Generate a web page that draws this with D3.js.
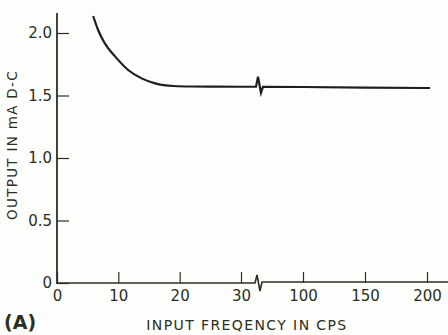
<!DOCTYPE html>
<html>
<head>
<meta charset="utf-8">
<script src="https://cdn.jsdelivr.net/npm/d3@7"></script>
<style>
  html, body { margin: 0; padding: 0; background: #fdfdfb; }
  svg { display: block; }
  text { font-family: "DejaVu Sans", sans-serif; fill: #2b2f22; }
</style>
</head>
<body>
<svg id="chart" width="448" height="335"></svg>
<script>
// Low-frequency part of the response (cps, mA d-c)
const lowFreq   = [5.9, 6.7, 7.8, 9.5, 11.6, 13.8, 16.0, 19.0, 22, 26, 30];
const lowOutput = [2.136, 2.024, 1.917, 1.811, 1.704, 1.637, 1.597, 1.576, 1.572, 1.571, 1.57];
// High-frequency part, after the scale break
const highFreq   = [100, 150, 200, 202.5];
const highOutput = [1.568, 1.563, 1.56, 1.56];

const lowTicks  = [0, 10, 20, 30];
const highTicks = [100, 150, 200];
const yTicks    = [0, 0.5, 1.0, 1.5, 2.0];
const yTickLabels = ["0", "0.5", "1.0", "1.5", "2.0"];

const svg = d3.select("#chart");
const ink = "#2b2f22";

// Broken x axis: linear 0–30, then linear 100–200
const xLow  = d3.scaleLinear().domain([0, 30]).range([57, 241]);
const xHigh = d3.scaleLinear().domain([100, 200]).range([303, 427]);
const y = d3.scaleLinear().domain([0, 2.16]).range([283, 13]);
const breakX = xLow(30) + 16;

// y axis: ticks pointing into the plot, labels on the left
const yAxis = d3.axisLeft(y)
  .tickValues(yTicks)
  .tickFormat((d, i) => yTickLabels[i])
  .tickSizeInner(-12).tickSizeOuter(0).tickPadding(5);
const gy = svg.append("g").attr("transform", "translate(57,0)").call(yAxis);
gy.select(".domain").remove();
gy.selectAll("line").attr("stroke", ink).attr("stroke-width", 1.2);
gy.selectAll("text").style("font-size", "15px").attr("fill", ink);

// x axis, two segments
function xAxisPart(scale, ticks) {
  const ax = d3.axisBottom(scale).tickValues(ticks)
    .tickSizeInner(-11).tickSizeOuter(0).tickPadding(7);
  const g = svg.append("g").attr("transform", "translate(0,283)").call(ax);
  g.select(".domain").remove();
  g.selectAll("line").attr("stroke", ink).attr("stroke-width", 1.2);
  g.selectAll("text").style("font-size", "15px").attr("fill", ink);
  return g;
}
xAxisPart(xLow, lowTicks);
xAxisPart(xHigh, highTicks);

// axis lines (x axis drawn with its break zigzag)
svg.append("line").attr("x1", 57).attr("x2", 57).attr("y1", 13).attr("y2", 284)
  .attr("stroke", ink).attr("stroke-width", 1.8);
const y0 = y(0);
svg.append("path")
  .attr("d", d3.line()([
    [57, y0], [breakX - 2, y0], [breakX, y0 - 8], [breakX + 3, y0 + 8], [breakX + 5, y0 - 1], [448, y0 - 1]
  ]))
  .attr("fill", "none").attr("stroke", ink).attr("stroke-width", 1.6);

// response curve
const lowPts  = lowFreq.map((f, i) => [xLow(f), y(lowOutput[i])]);
const highPts = highFreq.map((f, i) => [xHigh(f), y(highOutput[i])]);
const curve = d3.line().curve(d3.curveMonotoneX);
svg.append("path").attr("d", curve(lowPts))
  .attr("fill", "none").attr("stroke", "#1e1e1c").attr("stroke-width", 2.2);

// flat run across the break, with the break zigzag
const yb = y(1.57);
svg.append("path")
  .attr("d", d3.line()([
    [xLow(30), yb], [breakX - 1, yb], [breakX + 1, yb - 10], [breakX + 4, yb + 6], [breakX + 6, yb],
    ...highPts
  ]))
  .attr("fill", "none").attr("stroke", "#1e1e1c").attr("stroke-width", 2.2);

// titles
svg.append("text")
  .attr("transform", "translate(17,145) rotate(-90)")
  .attr("text-anchor", "middle")
  .style("font-size", "13.5px").style("letter-spacing", "1.3px")
  .text("OUTPUT IN mA D-C");

svg.append("text")
  .attr("x", 247).attr("y", 330)
  .attr("text-anchor", "middle")
  .style("font-size", "14px").style("letter-spacing", "1.4px")
  .text("INPUT FREQENCY IN CPS");

svg.append("text")
  .attr("x", 4).attr("y", 329)
  .style("font-size", "19px").style("font-weight", "bold")
  .text("(A)");
</script>
</body>
</html>
